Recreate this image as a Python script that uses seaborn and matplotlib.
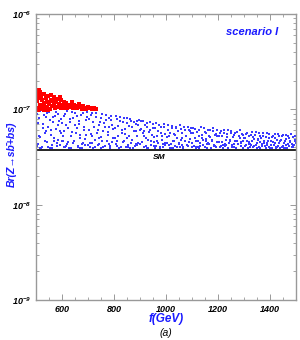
import math
import pandas as pd
import matplotlib
matplotlib.use('Agg')
import matplotlib.pyplot as plt
import matplotlib.ticker as mticker
import seaborn as sns

# scan points: f in GeV, Br in units of 1e-8
blue_f = [503, 508, 512, 517, 521, 526, 530, 534, 539, 543, 548, 552, 557, 561, 566, 570, 575, 579, 584, 588, 593, 597, 505, 545, 585,
          602, 606, 611, 615, 620, 624, 629, 633, 638, 642, 647, 651, 656, 660, 665, 669, 674, 678, 683, 687, 692, 696, 618, 653, 681,
          701, 705, 710, 714, 719, 723, 728, 732, 737, 741, 746, 750, 755, 759, 764, 768, 773, 777, 782, 786, 791, 795, 716, 748, 789,
          802, 806, 811, 815, 820, 824, 829, 833, 838, 842, 847, 851, 856, 860, 865, 869, 874, 878, 883, 887, 892, 896, 813, 849, 885,
          901, 905, 910, 914, 919, 923, 928, 932, 937, 941, 946, 950, 955, 959, 964, 968, 973, 977, 982, 986, 991, 995, 917, 952, 988,
          1002, 1006, 1011, 1015, 1020, 1024, 1029, 1033, 1038, 1042, 1047, 1051, 1056, 1060, 1065, 1069, 1074, 1078, 1083, 1087, 1092, 1096, 1018, 1053, 1089,
          1101, 1105, 1110, 1114, 1119, 1123, 1128, 1132, 1137, 1141, 1146, 1150, 1155, 1159, 1164, 1168, 1173, 1177, 1182, 1186, 1191, 1195, 1116, 1152, 1188,
          1202, 1206, 1211, 1215, 1220, 1224, 1229, 1233, 1238, 1242, 1247, 1251, 1256, 1260, 1265, 1269, 1274, 1278, 1283, 1287, 1292, 1296, 1218, 1254, 1290,
          1302, 1306, 1311, 1315, 1320, 1324, 1329, 1333, 1338, 1342, 1347, 1351, 1356, 1360, 1365, 1369, 1374, 1378, 1383, 1387, 1392, 1396, 1318, 1354, 1390,
          1402, 1406, 1411, 1415, 1420, 1424, 1429, 1433, 1438, 1442, 1447, 1451, 1456, 1460, 1465, 1469, 1474, 1478, 1483, 1487, 1492, 1496, 1418, 1454, 1489,
          501, 506, 510, 515, 519, 524, 528, 533, 537, 541, 546, 550, 555, 559, 564, 568, 573, 577, 582, 586, 591, 595, 599, 514, 562,
          600, 604, 609, 613, 617, 622, 626, 631, 635, 640, 644, 649, 653, 658, 662, 667, 671, 676, 680, 685, 689, 694, 698, 608, 671,
          703, 707, 712, 716, 721, 725, 730, 734, 739, 743, 748, 752, 757, 761, 766, 770, 775, 779, 784, 788, 793, 797, 709, 744, 780,
          804, 808, 813, 817, 822, 826, 831, 835, 840, 844, 849, 853, 858, 862, 867, 871, 876, 880, 885, 889, 894, 898, 819, 855, 890,
          903, 907, 912, 916, 921, 925, 930, 934, 939, 943, 948, 952, 957, 961, 966, 970, 975, 979, 984, 988, 993, 997, 925, 960, 995,
          1004, 1008, 1013, 1017, 1022, 1026, 1031, 1035, 1040, 1044, 1049, 1053, 1058, 1062, 1067, 1071, 1076, 1080, 1085, 1089, 1094, 1098, 1027, 1062, 1096,
          1103, 1107, 1112, 1116, 1121, 1125, 1130, 1134, 1139, 1143, 1148, 1152, 1157, 1161, 1166, 1170, 1175, 1179, 1184, 1188, 1193, 1197, 1126, 1161, 1195,
          1204, 1208, 1213, 1217, 1222, 1226, 1231, 1235, 1240, 1244, 1249, 1253, 1258, 1262, 1267, 1271, 1276, 1280, 1285, 1289, 1294, 1298, 1227, 1262, 1297,
          1304, 1308, 1313, 1317, 1322, 1326, 1331, 1335, 1340, 1344, 1349, 1353, 1358, 1362, 1367, 1371, 1376, 1380, 1385, 1389, 1394, 1398, 1327, 1362, 1397,
          1404, 1408, 1413, 1417, 1422, 1426, 1431, 1435, 1440, 1444, 1449, 1453, 1458, 1462, 1467, 1471, 1476, 1480, 1485, 1489, 1494, 1499, 1427, 1462, 1497]
blue_br = [4.1, 7.2, 5.3, 9.6, 3.9, 6.4, 8.7, 4.6, 5.9, 9.1, 4.0, 7.8, 6.1, 3.9, 8.3, 5.0, 9.4, 4.4, 6.8, 7.5, 4.2, 5.6, 8.9, 9.7, 4.8,
           5.2, 8.6, 4.0, 6.9, 9.5, 4.5, 7.4, 3.9, 5.8, 8.1, 4.7, 9.2, 6.3, 4.1, 7.0, 5.4, 8.8, 3.9, 6.1, 4.9, 7.7, 9.3, 4.3, 5.6, 4.4,
           4.2, 7.9, 5.5, 9.2, 3.9, 6.6, 4.8, 8.4, 6.0, 4.3, 7.3, 5.1, 8.9, 4.0, 6.5, 7.7, 4.6, 5.8, 8.2, 4.1, 6.9, 5.0, 4.4, 3.9, 8.6,
           5.0, 8.5, 4.1, 6.7, 3.9, 7.6, 5.6, 4.5, 8.2, 6.2, 4.0, 7.1, 5.3, 8.0, 4.4, 6.5, 3.9, 7.4, 5.9, 4.2, 6.8, 7.7, 4.7, 5.0, 4.3,
           4.3, 7.5, 5.6, 4.0, 6.8, 5.0, 7.2, 3.9, 6.1, 4.6, 5.4, 7.0, 4.1, 6.4, 5.2, 4.4, 6.9, 3.9, 5.7, 4.8, 6.6, 4.2, 5.9, 4.5, 4.0,
           5.1, 6.8, 4.2, 5.7, 3.9, 6.3, 4.7, 5.4, 6.6, 4.0, 5.9, 4.4, 6.2, 5.0, 3.9, 6.5, 4.6, 5.3, 4.1, 6.0, 4.9, 5.6, 4.3, 4.0, 4.5,
           4.4, 6.3, 5.0, 3.9, 5.8, 4.6, 6.1, 4.1, 5.4, 4.8, 6.4, 4.0, 5.6, 4.3, 5.2, 6.0, 3.9, 4.7, 5.9, 4.2, 5.5, 4.5, 4.0, 4.9, 4.1,
           5.3, 4.0, 5.9, 4.5, 3.9, 5.6, 4.2, 5.1, 6.0, 4.4, 4.8, 5.7, 4.0, 5.4, 4.6, 3.9, 5.8, 4.3, 5.0, 4.1, 5.5, 4.7, 4.2, 4.0, 4.4,
           4.1, 5.5, 4.6, 3.9, 5.2, 4.3, 5.8, 4.0, 4.9, 5.4, 4.2, 3.9, 5.6, 4.5, 5.0, 4.1, 5.3, 4.4, 3.9, 5.7, 4.7, 4.0, 4.3, 4.8, 4.2,
           4.6, 3.9, 5.3, 4.2, 5.0, 4.0, 5.5, 4.4, 3.9, 4.8, 5.2, 4.1, 4.6, 5.4, 3.9, 4.3, 5.0, 4.5, 4.0, 5.1, 4.2, 4.7, 4.4, 3.9, 4.1,
           6.0, 4.3, 8.1, 5.1, 9.8, 4.0, 7.0, 5.7, 8.4, 4.5, 6.6, 9.3, 3.9, 5.4, 7.3, 4.7, 8.6, 6.2, 4.1, 9.0, 5.9, 7.9, 4.6, 3.9, 4.2,
           7.1, 4.6, 5.9, 8.9, 4.1, 6.4, 3.9, 8.0, 5.2, 9.4, 4.4, 6.8, 5.6, 8.5, 4.0, 7.6, 5.0, 4.3, 9.1, 6.5, 4.2, 5.4, 8.3, 4.0, 3.9,
           6.1, 4.4, 8.8, 5.3, 7.4, 4.0, 9.1, 5.7, 4.2, 6.9, 8.1, 4.6, 5.9, 7.2, 4.1, 8.7, 5.4, 6.6, 3.9, 7.8, 4.5, 6.2, 4.0, 5.0, 4.3,
           6.3, 4.3, 7.9, 5.2, 8.4, 4.0, 6.0, 7.3, 4.6, 5.5, 8.1, 4.2, 6.7, 3.9, 7.6, 4.8, 5.9, 4.1, 7.0, 5.3, 4.4, 6.1, 3.9, 4.0, 7.5,
           6.2, 4.5, 7.6, 5.3, 4.1, 6.6, 4.8, 5.8, 7.3, 4.2, 6.3, 5.1, 3.9, 7.1, 4.6, 5.9, 4.0, 6.5, 5.2, 4.3, 7.0, 5.5, 3.9, 4.1, 4.4,
           4.4, 6.0, 5.2, 3.9, 6.7, 4.6, 5.5, 4.1, 6.3, 5.0, 4.3, 6.8, 4.8, 5.7, 4.0, 6.1, 5.3, 4.2, 6.5, 4.5, 5.9, 4.0, 3.9, 4.2, 6.3,
           5.6, 4.1, 6.2, 4.7, 4.0, 5.3, 4.4, 6.5, 5.0, 4.2, 5.8, 4.6, 3.9, 6.0, 4.3, 5.1, 4.8, 6.3, 4.1, 5.4, 4.0, 6.1, 3.9, 4.4, 5.2,
           4.5, 5.7, 4.1, 5.2, 6.1, 4.3, 4.8, 5.5, 3.9, 4.6, 5.9, 4.2, 5.1, 4.0, 5.6, 4.7, 4.3, 5.3, 6.0, 4.5, 3.9, 5.0, 4.1, 4.3, 5.4,
           5.0, 4.2, 5.7, 4.5, 4.0, 5.4, 4.7, 5.1, 4.1, 5.8, 4.4, 4.9, 4.0, 5.3, 4.3, 5.6, 4.6, 4.1, 5.1, 4.4, 5.5, 3.9, 4.2, 3.9, 5.0,
           4.2, 5.1, 4.5, 5.5, 3.9, 4.8, 4.1, 5.2, 4.6, 4.0, 5.4, 4.4, 3.9, 4.9, 5.3, 4.1, 4.6, 5.5, 4.3, 4.0, 5.2, 4.4, 4.0, 4.2, 4.8]

red_f = [501, 503, 505, 507, 509, 511, 514, 516, 519, 521, 524,
         527, 529, 532, 535, 538, 541, 544, 547, 550, 553, 556, 558,
         562, 565, 568, 571, 574, 577, 581, 584, 588, 591, 595, 598,
         602, 606, 609, 613, 617, 621, 625, 629, 633, 637, 641, 645, 649,
         654, 659, 664, 669, 675, 681, 687, 694, 701, 709, 716, 724, 731,
         506, 518, 531, 546]
red_br = [15.6, 12.1, 10.3, 14.2, 13.0, 16.0, 11.2, 15.1, 10.6, 13.8, 12.4,
          10.9, 14.5, 11.7, 10.2, 13.1, 12.0, 10.5, 13.9, 11.3, 10.1, 12.6, 14.0,
          10.8, 12.2, 11.0, 13.3, 10.4, 11.8, 12.9, 10.6, 11.5, 13.5, 10.3, 12.4,
          11.1, 10.2, 12.0, 10.7, 11.6, 10.3, 11.2, 10.5, 10.9, 11.8, 10.2, 11.0, 10.4,
          10.8, 10.2, 11.3, 10.5, 10.0, 10.7, 10.3, 10.1, 10.5, 10.2, 10.0, 10.3, 10.1,
          9.9, 10.0, 9.8, 9.9]

sm_value = 3.74e-8

blue = pd.DataFrame({'f': blue_f, 'br': [v * 1e-8 for v in blue_br]})
red = pd.DataFrame({'f': red_f, 'br': [v * 1e-8 for v in red_br]})

sns.set_style('ticks')
plt.rcParams['font.family'] = ['Liberation Sans', 'DejaVu Sans']
plt.rcParams['mathtext.fontset'] = 'custom'
plt.rcParams['mathtext.rm'] = 'Liberation Sans:bold:italic'
plt.rcParams['mathtext.it'] = 'Liberation Sans:bold:italic'
plt.rcParams['mathtext.bf'] = 'Liberation Sans:bold:italic'

fig = plt.figure(figsize=(3.0, 3.4), dpi=100)
ax = fig.add_axes([0.12, 0.1176, 0.867, 0.8414])

sns.scatterplot(data=blue, x='f', y='br', ax=ax, color='#3a3aff', marker='s', s=1.0, linewidth=0)
sns.scatterplot(data=red, x='f', y='br', ax=ax, color='#ff0000', marker='s', s=5, linewidth=0)
ax.axhline(sm_value, color='black', lw=1.2)

ax.set_yscale('log')
ax.set_xlim(500, 1500)
ax.set_ylim(1e-9, 1e-6)

ax.xaxis.set_major_locator(mticker.MultipleLocator(200))
ax.xaxis.set_minor_locator(mticker.MultipleLocator(50))
ax.yaxis.set_major_locator(mticker.LogLocator(base=10))
ax.yaxis.set_minor_locator(mticker.LogLocator(base=10, subs=range(2, 10)))
ax.yaxis.set_minor_formatter(mticker.NullFormatter())
ax.yaxis.set_major_formatter(mticker.FuncFormatter(
    lambda v, p: r'$10^{%d}$' % round(math.log10(v))))

ax.tick_params(axis='both', which='both', direction='in', colors='#999999',
               top=True, right=True, labelcolor='black', labelsize=6.5)
ax.tick_params(which='major', length=4, width=0.7)
ax.tick_params(which='minor', length=2, width=0.6)
for lab in ax.get_xticklabels():
    lab.set_fontweight('bold')
    lab.set_fontstyle('italic')
for sp in ax.spines.values():
    sp.set_color('#999999')
    sp.set_linewidth(1.0)

ax.set_xlabel('f(GeV)', color='#1a1aff', fontsize=8.5, fontweight='bold', fontstyle='italic')
ax.xaxis.set_label_coords(0.5, -0.045)
ax.set_ylabel('Br(Z\u2192sb\u0304+bs\u0304)', color='#1a1aff', fontsize=7.5,
              fontweight='bold', fontstyle='italic')
ax.yaxis.set_label_coords(-0.075, 0.51)

ax.text(1330, 6.5e-7, 'scenario I', color='#1a1aff', fontsize=8, fontweight='bold',
        fontstyle='italic', ha='center', va='center')
ax.text(975, 3.1e-8, 'SM', color='black', fontsize=6, fontweight='bold',
        fontstyle='italic', ha='center', va='center')
fig.text(0.553, 0.022, '(a)', color='black', fontsize=7.5, fontstyle='italic', ha='center', va='center')

fig.savefig('out.png', dpi=100)
